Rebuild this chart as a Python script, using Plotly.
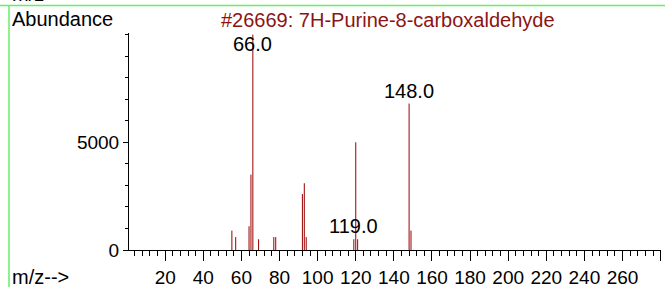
import plotly.graph_objects as go

# ---- data ----
mz = [55, 57, 64, 65, 66, 69, 77, 78, 92, 93, 94, 119, 120, 121, 148, 149]
abundance = [900, 600, 1100, 3500, 9999, 500, 600, 600, 2600, 3100, 600, 500, 5000, 500, 6800, 900]
label_mz = [66, 119, 148]
x_tick_vals = [20, 40, 60, 80, 100, 120, 140, 160, 180, 200, 220, 240, 260, 280]
x_tick_text = ["20", "40", "60", "80", "100", "120", "140", "160", "180", "200", "220", "240", "260", ""]
y_tick_vals = [0, 5000]
title_text = "#26669: 7H-Purine-8-carboxaldehyde"

FONT = "Liberation Sans, Arial, sans-serif"
RED = "#8b1414"

# stick spectrum built from data
xs, ys = [], []
for m, a in zip(mz, abundance):
    xs += [m, m, None]
    ys += [0, a, None]

fig = go.Figure()
fig.add_trace(go.Scatter(x=xs, y=ys, mode="lines",
                         line=dict(color="#990000", width=1),
                         hoverinfo="skip", showlegend=False))

# geometry helpers (pixel -> paper)
W, H = 665, 287
ML, MR, MT, MB = 129, 4, 33, 37
PW, PH = W - ML - MR, H - MT - MB


def px(x):
    return (x - ML) / PW


def py(y):
    return (H - MB - y) / PH


ann = []
for m in label_mz:
    a = abundance[mz.index(m)]
    ann.append(dict(x=m, y=min(a, 8950), xref="x", yref="y", text=f"{m:.1f}",
                    showarrow=False, yanchor="bottom", xanchor="center",
                    font=dict(family=FONT, size=20, color="black")))

ann += [
    dict(x=px(10), y=py(19), xref="paper", yref="paper", text="Abundance",
         showarrow=False, xanchor="left", yanchor="middle",
         font=dict(family=FONT, size=20, color="black")),
    dict(x=px(388), y=py(20), xref="paper", yref="paper", text=title_text,
         showarrow=False, xanchor="center", yanchor="middle",
         font=dict(family=FONT, size=20, color=RED)),
    dict(x=px(10), y=py(277), xref="paper", yref="paper", text="m/z-->",
         showarrow=False, xanchor="left", yanchor="middle",
         font=dict(family=FONT, size=20, color="black")),
    dict(x=px(10), y=py(-6), xref="paper", yref="paper", text="m/z-->",
         showarrow=False, xanchor="left", yanchor="middle",
         font=dict(family=FONT, size=20, color="black")),
]

green = "#66ee66"
shapes = [
    dict(type="line", xref="paper", yref="paper", x0=px(0), x1=px(W), y0=py(5.5), y1=py(5.5),
         line=dict(color=green, width=1.5)),
    dict(type="line", xref="paper", yref="paper", x0=px(9), x1=px(9), y0=py(5.5), y1=py(H),
         line=dict(color=green, width=1.5)),
]

fig.update_layout(
    width=W, height=H,
    margin=dict(l=ML, r=MR, t=MT, b=MB, pad=0, autoexpand=False),
    paper_bgcolor="white", plot_bgcolor="white",
    font=dict(family=FONT, size=20, color="black"),
    annotations=ann, shapes=shapes,
    showlegend=False,
)
fig.update_xaxes(
    automargin=False,
    range=[1, 280.2], showgrid=False, zeroline=False,
    showline=True, linecolor="black", linewidth=1,
    tickmode="array", tickvals=x_tick_vals, ticktext=x_tick_text,
    ticks="outside", ticklen=10, tickcolor="black", tickwidth=1,
    tickfont=dict(family=FONT, size=19, color="black"),
    minor=dict(tickmode="linear", tick0=0, dtick=4, ticks="outside", ticklen=5,
               tickcolor="black", tickwidth=1, showgrid=False),
)
fig.update_yaxes(
    automargin=False,
    range=[0, 10075], showgrid=False, zeroline=False,
    showline=True, linecolor="black", linewidth=1,
    tickmode="array", tickvals=y_tick_vals,
    ticks="outside", ticklen=5, tickcolor="black", tickwidth=1,
    tickfont=dict(family=FONT, size=19, color="black"),
    minor=dict(tickmode="linear", tick0=0, dtick=1000, ticks="outside", ticklen=3,
               tickcolor="black", tickwidth=1, showgrid=False),
)

fig.write_html("out.html", config={"displayModeBar": False},
               post_script="document.body.style.margin='0px';document.body.style.overflow='hidden';")
